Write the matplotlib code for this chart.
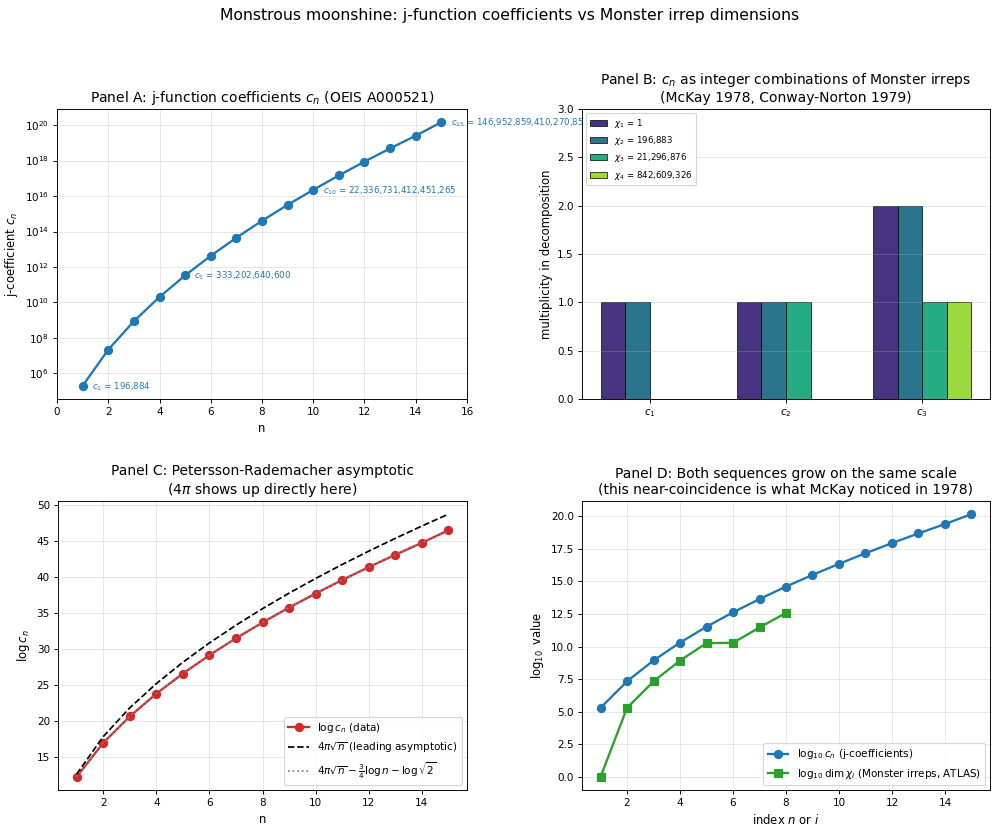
import numpy as np
import matplotlib
matplotlib.use("Agg")
import matplotlib.pyplot as plt

# ---- data ----
n_vals = list(range(1, 16))
j_coeffs = [196884, 21493760, 864299970, 20245856256, 333202640600,
            4252023300096, 44656994071935, 401490886656000, 3176440229784420,
            22336731412451265, 146211911499519294, 874313719685775360,
            4872010111798142520, 25497827389410525184, 146952859410270851072]
annot_idx = [1, 5, 10, 15]

irrep_idx = list(range(1, 9))
irrep_dims = [1, 196883, 21296876, 842609326, 18538750076, 19360062527,
              293553734298, 3879214937598]

# Panel B: multiplicities of chi_1..chi_4 in c_1..c_3
b_categories = ["$c_1$", "$c_2$", "$c_3$"]
b_series_labels = [r"$\chi_1$ = 1", r"$\chi_2$ = 196,883",
                   r"$\chi_3$ = 21,296,876", r"$\chi_4$ = 842,609,326"]
b_mult = [[1, 1, 2],   # chi_1
          [1, 1, 2],   # chi_2
          [0, 1, 1],   # chi_3
          [0, 0, 1]]   # chi_4

# Panel C: asymptotic curves (values as read)
lead_asym = [12.566, 17.772, 21.766, 25.133, 28.099, 30.781, 33.247, 35.543,
             37.699, 39.738, 41.678, 43.531, 45.309, 47.019, 48.670]
sub_asym = [12.220, 16.905, 20.595, 23.746, 26.545, 29.090, 31.441, 33.636,
            35.704, 37.664, 39.533, 41.320, 43.038, 44.693, 46.292]

# ---- figure ----
fig = plt.figure(figsize=(12, 9.984), dpi=1000 / 12)
fig.suptitle("Monstrous moonshine: j-function coefficients vs Monster irrep dimensions",
             fontsize=13.5, x=0.51, y=0.99)

W, H = 1000.0, 832.0
def pos(l, t, r, b):
    return [l / W, 1 - b / H, (r - l) / W, (b - t) / H]

axA = fig.add_axes(pos(57, 109, 467, 399))
axB = fig.add_axes(pos(582, 109, 990, 399))
axC = fig.add_axes(pos(58, 501, 467, 790))
axD = fig.add_axes(pos(582, 501, 990, 790))

tick_fs = 9
lab_fs = 10

# Panel A
cvals = np.array([float(c) for c in j_coeffs])
axA.semilogy(n_vals, cvals, "o-", color="tab:blue", lw=2, ms=7)
for k in annot_idx:
    axA.annotate(f"$c_{{{k}}}$ = {j_coeffs[k-1]:,}", (n_vals[k-1], cvals[k-1]),
                 xytext=(8, -3), textcoords="offset points", fontsize=7.5,
                 color="tab:blue", annotation_clip=False)
axA.set_xlim(0, 16)
axA.set_title("Panel A: j-function coefficients $c_n$ (OEIS A000521)", fontsize=12)
axA.set_xlabel("n", fontsize=lab_fs)
axA.set_ylabel("j-coefficient $c_n$", fontsize=lab_fs)
axA.grid(True, alpha=0.3)
axA.tick_params(labelsize=tick_fs)

# Panel B
x = np.arange(len(b_categories))
width = 0.18
colors = plt.cm.viridis(np.linspace(0.15, 0.85, 4))
for i in range(4):
    axB.bar(x + (i - 1.5) * width, b_mult[i], width, color=colors[i],
            edgecolor="black", linewidth=0.6, label=b_series_labels[i])
axB.set_xticks(x)
axB.set_xticklabels(b_categories)
axB.set_ylim(0, 3.0)
axB.set_ylabel("multiplicity in decomposition", fontsize=lab_fs)
axB.set_title("Panel B: $c_n$ as integer combinations of Monster irreps\n(McKay 1978, Conway-Norton 1979)",
              fontsize=12)
axB.legend(loc="upper left", fontsize=7.5)
axB.grid(True, axis="y", alpha=0.3)
axB.tick_params(labelsize=tick_fs)

# Panel C
axC.plot(n_vals, np.log(cvals), "o-", color="tab:red", lw=2, ms=7,
         label=r"$\log c_n$ (data)")
axC.plot(n_vals, lead_asym, "--", color="black", lw=1.5,
         label=r"$4\pi\sqrt{n}$ (leading asymptotic)")
axC.plot(n_vals, sub_asym, ":", color="gray", lw=1.5,
         label=r"$4\pi\sqrt{n} - \frac{3}{4}\log n - \log\sqrt{2}$")
axC.set_title("Panel C: Petersson-Rademacher asymptotic\n($4\\pi$ shows up directly here)",
              fontsize=12)
axC.set_xlabel("n", fontsize=lab_fs)
axC.set_ylabel(r"$\log c_n$", fontsize=lab_fs)
axC.legend(loc="lower right", fontsize=9)
axC.grid(True, alpha=0.3)
axC.tick_params(labelsize=tick_fs)

# Panel D
axD.plot(n_vals, np.log10(cvals), "o-", color="tab:blue", lw=2, ms=7,
         label=r"$\log_{10} c_n$ (j-coefficients)")
axD.plot(irrep_idx, np.log10(np.array(irrep_dims, dtype=float)), "s-",
         color="tab:green", lw=2, ms=7,
         label=r"$\log_{10} \dim\chi_i$ (Monster irreps, ATLAS)")
axD.set_title("Panel D: Both sequences grow on the same scale\n(this near-coincidence is what McKay noticed in 1978)",
              fontsize=12)
axD.set_xlabel("index $n$ or $i$", fontsize=lab_fs)
axD.set_ylabel(r"$\log_{10}$ value", fontsize=lab_fs)
axD.legend(loc="lower right", fontsize=9)
axD.grid(True, alpha=0.3)
axD.tick_params(labelsize=tick_fs)

fig.savefig("out.png", dpi=1000 / 12)
